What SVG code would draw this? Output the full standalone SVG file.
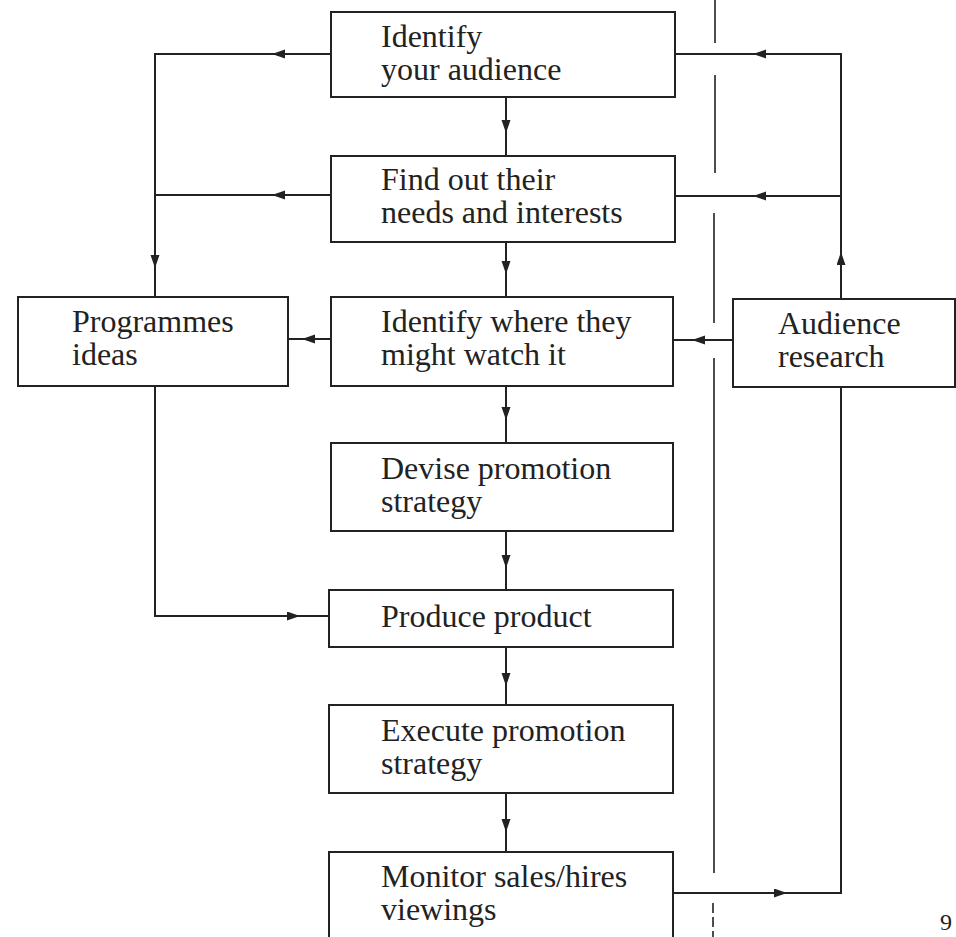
<svg xmlns="http://www.w3.org/2000/svg" width="956" height="937" viewBox="0 0 956 937">
<defs>
<style>
.box{fill:none;stroke:#222;stroke-width:2}
.lbl{font-family:"Liberation Serif","Times New Roman",serif;font-size:32px;fill:#222}
.ln{fill:none;stroke:#222;stroke-width:2}
.arr{fill:none;stroke:#222;stroke-width:2;marker-end:url(#ah)}
.dash{fill:none;stroke:#222;stroke-width:1.6}
</style>
<marker id="ah" markerUnits="userSpaceOnUse" markerWidth="14" markerHeight="10" refX="13" refY="4.5" orient="auto">
<path d="M0,0 L13,4.5 L0,9 z" fill="#222"/>
</marker>
</defs>
<rect width="956" height="937" fill="#fff"/>

<g id="connectors">
<path class="arr" d="M331,54 H272"/>
<path class="arr" d="M272,54 H155 V268"/>
<path class="ln" d="M155,268 V297"/>
<path class="arr" d="M331,195 H272"/>
<path class="ln" d="M272,195 H155"/>
<path class="arr" d="M331,339 H302"/>
<path class="ln" d="M302,339 H288"/>
<path class="arr" d="M155,386 V616 H300"/>
<path class="ln" d="M300,616 H329"/>
<path class="arr" d="M506,97 V133"/>
<path class="ln" d="M506,133 V156"/>
<path class="arr" d="M506,242 V274"/>
<path class="ln" d="M506,274 V297"/>
<path class="arr" d="M506,386 V420"/>
<path class="ln" d="M506,420 V443"/>
<path class="arr" d="M506,531 V568"/>
<path class="ln" d="M506,568 V590"/>
<path class="arr" d="M506,647 V686"/>
<path class="ln" d="M506,686 V705"/>
<path class="arr" d="M506,793 V832"/>
<path class="ln" d="M506,832 V852"/>
<path class="arr" d="M841,299 V252"/>
<path class="arr" d="M841,252 V54 H753"/>
<path class="ln" d="M753,54 H675"/>
<path class="arr" d="M841,196 H753"/>
<path class="ln" d="M753,196 H675"/>
<path class="arr" d="M733,340 H692"/>
<path class="ln" d="M692,340 H673"/>
<path class="arr" d="M673,893 H787"/>
<path class="ln" d="M787,893 H841 V387"/>
<path class="dash" d="M715,0 V43 M715,75 V173 M714,213 V323 M714,358 V873"/>
<path class="dash" d="M713,903 V937" stroke-dasharray="10 4"/>
</g>

<g id="n1"><rect class="box" x="331" y="12" width="344" height="85"/><text class="lbl" x="381" y="47">Identify</text><text class="lbl" x="381" y="80">your audience</text></g>
<g id="n2"><rect class="box" x="331" y="156" width="344" height="86"/><text class="lbl" x="381" y="190">Find out their</text><text class="lbl" x="381" y="223">needs and interests</text></g>
<g id="n3"><rect class="box" x="331" y="297" width="342" height="89"/><text class="lbl" x="381" y="332">Identify where they</text><text class="lbl" x="381" y="365">might watch it</text></g>
<g id="n4"><rect class="box" x="331" y="443" width="342" height="88"/><text class="lbl" x="381" y="479">Devise promotion</text><text class="lbl" x="381" y="512">strategy</text></g>
<g id="n5"><rect class="box" x="329" y="590" width="344" height="57"/><text class="lbl" x="381" y="627">Produce product</text></g>
<g id="n6"><rect class="box" x="329" y="705" width="344" height="88"/><text class="lbl" x="381" y="741">Execute promotion</text><text class="lbl" x="381" y="774">strategy</text></g>
<g id="n7"><rect class="box" x="329" y="852" width="344" height="90"/><text class="lbl" x="381" y="887">Monitor sales/hires</text><text class="lbl" x="381" y="920">viewings</text></g>
<g id="n8"><rect class="box" x="18" y="297" width="270" height="89"/><text class="lbl" x="72" y="332">Programmes</text><text class="lbl" x="72" y="365">ideas</text></g>
<g id="n9"><rect class="box" x="733" y="299" width="222" height="88"/><text class="lbl" x="778" y="334">Audience</text><text class="lbl" x="778" y="367">research</text></g>
<text class="lbl" x="940" y="930" style="font-size:24px">9</text>
</svg>
